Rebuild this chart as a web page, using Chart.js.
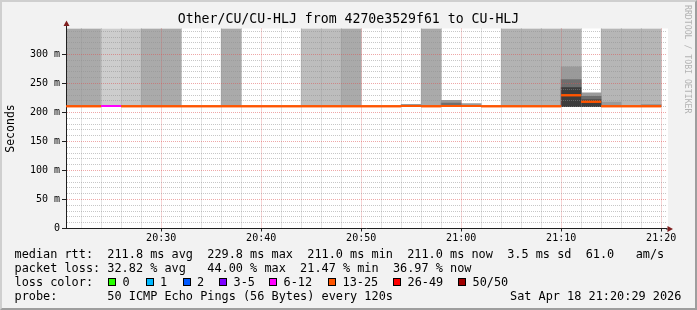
<!DOCTYPE html>
<html>
<head>
<meta charset="utf-8">
<title>Other/CU/CU-HLJ</title>
<script src="https://cdn.jsdelivr.net/npm/chart.js@4.4.1/dist/chart.umd.min.js"></script>
<style>
  body { margin: 0; background: #f2f2f2; }
  #graph { position: relative; width: 697px; height: 310px; background: #f2f2f2;
           font-family: 'DejaVu Sans Mono', monospace; overflow: hidden; }
  #frame { position: absolute; left: 0; top: 0; width: 697px; height: 310px; box-sizing: border-box;
           border: 2px solid; border-color: #cfcfcf #9e9e9e #9e9e9e #cfcfcf; }
  canvas { position: absolute; left: 0; top: 0; }
  .lg { position: absolute; font-size: 11.86px; line-height: 14px; white-space: pre; color: #000; }
  .box { position: absolute; top: 278px; width: 6px; height: 6px; border: 1px solid #000; }
  #mark { position: absolute; left: 683px; top: 5px; font-size: 8.2px; line-height: 10px;
          writing-mode: vertical-rl; color: #b3b3b3; white-space: pre; }
</style>
</head>
<body>
<div id="graph">
  <div id="frame"></div>
  <canvas id="smoke" width="697" height="310"></canvas>

  <div id="mark">RRDTOOL / TOBI OETIKER</div>

  <div class="lg" style="left:14.5px; top:247px">median rtt:  211.8 ms avg  229.8 ms max  211.0 ms min  211.0 ms now  3.5 ms sd  61.0   am/s</div>
  <div class="lg" style="left:14.5px; top:261px">packet loss: 32.82 % avg   44.00 % max  21.47 % min  36.97 % now</div>
  <div class="lg" style="left:14.5px; top:275px">loss color:</div>
  <div class="box" style="left:108px; background:#26ff00"></div><div class="lg" style="left:122.5px; top:275px">0</div>
  <div class="box" style="left:145.5px; background:#00b8ff"></div><div class="lg" style="left:160px; top:275px">1</div>
  <div class="box" style="left:182.5px; background:#0059ff"></div><div class="lg" style="left:197px; top:275px">2</div>
  <div class="box" style="left:219px; background:#7e00ff"></div><div class="lg" style="left:233.5px; top:275px">3-5</div>
  <div class="box" style="left:269px; background:#ff00ff"></div><div class="lg" style="left:283.5px; top:275px">6-12</div>
  <div class="box" style="left:328px; background:#ff5500"></div><div class="lg" style="left:342.5px; top:275px">13-25</div>
  <div class="box" style="left:393px; background:#ff0000"></div><div class="lg" style="left:407.5px; top:275px">26-49</div>
  <div class="box" style="left:458px; background:#a00000"></div><div class="lg" style="left:472.5px; top:275px">50/50</div>
  <div class="lg" style="left:14.5px; top:289px">probe:       50 ICMP Echo Pings (56 Bytes) every 120s</div>
  <div class="lg" style="left:510px; top:289px">Sat Apr 18 21:20:29 2026</div>
</div>

<script>

// one entry per 120 s step
const binStart = ['20:20', '20:22', '20:24', '20:26', '20:28', '20:30', '20:32', '20:34', '20:36', '20:38',
                  '20:40', '20:42', '20:44', '20:46', '20:48', '20:50', '20:52', '20:54', '20:56', '20:58',
                  '21:00', '21:02', '21:04', '21:06', '21:08', '21:10', '21:12', '21:14', '21:16', '21:18'];

const medianMs = [211.0, 211.0, 211.2, 211.0, 211.0, 211.0, 211.0, 211.0, 211.0, 211.0,
                  211.0, 211.0, 211.0, 211.0, 211.0, 211.0, 211.0, 211.2, 211.0, 211.5,
                  211.2, 211.0, 211.0, 211.0, 211.0, 229.8, 218.6, 211.0, 211.0, 211.0];

// lost pings out of 50
const lostPings = [22, 22, 11, 13, 22, 22, 14, 14, 22, 14,
                   14, 14, 16, 16, 22, 14, 14, 15, 22, 15,
                   15, 14, 19, 19, 19, 19, 14, 18, 18, 18];

const minMs = [210, 210, 210, 210, 210, 210, 210, 210, 210, 210,
               210, 210, 210, 210, 210, 210, 210, 210, 210, 210,
               210, 210, 210, 210, 210, 210, 210, 210, 210, 210];

// smoke of lost pings, runs off the top of the graph
const lostTopMs = [345, 345, 345, 345, 345, 345, null, null, 345, null,
                   null, null, 345, 345, 345, null, null, null, 345, null,
                   null, null, 345, 345, 345, 345, null, 345, 345, 345];

// spread of the received pings
const spread95Ms = [null, null, null, null, null, null, null, null, null, null,
                    null, null, null, null, null, null, null, 214, null, 221,
                    215.5, null, null, null, null, 279, 234, 218, null, 214];
const spread85Ms = [null, null, null, null, null, null, null, null, null, null,
                    null, null, null, null, null, null, null, null, null, 216.5,
                    null, null, null, null, null, 257, 228, null, null, null];
const spread70Ms = [null, null, null, null, null, null, null, null, null, null,
                    null, null, null, null, null, null, null, null, null, null,
                    null, null, null, null, null, 243, 222, null, null, null];

const yLabelMs = [0, 50, 100, 150, 200, 250, 300];
const xLabels = ['20:30', '20:40', '20:50', '21:00', '21:10', '21:20'];
const windowStart = '20:20:29';
const windowEnd = '21:20:29';
const Y_MAX = 345;
const STEP = 2;

const lossBuckets = [[0, '#26ff00'], [1, '#00b8ff'], [2, '#0059ff'], [3, '#7e00ff'],
                     [6, '#ff00ff'], [13, '#ff5500'], [26, '#ff0000'], [50, '#a00000']];

function lossColor(n) {
  let c = lossBuckets[0][1];
  for (const [min, col] of lossBuckets) if (n >= min) c = col;
  return c;
}
function lossGray(n) {
  const v = Math.round(240 - 3.2 * n);
  return `rgb(${v},${v},${v})`;
}
function toMin(t) {
  const p = t.split(':').map(Number);
  return (p[0] - 20) * 60 + p[1] + (p[2] || 0) / 60;
}
function fmt(v) {
  const h = 20 + Math.floor(v / 60), m = Math.round(v % 60);
  return `${h}:${String(m).padStart(2, '0')}`;
}

const starts = binStart.map(toMin);
const mids = starts.map(m => m + STEP / 2);

function band(top) {
  return mids.map((x, i) => ({x, y: top[i] == null ? null : [minMs[i], top[i]]}));
}

let medianPts = [];
starts.forEach((m, i) => {
  medianPts.push({x: m, y: medianMs[i]}, {x: m + STEP, y: medianMs[i]}, {x: m + STEP, y: null});
});

const GRID = 'rgba(143,143,143,0.5)';
const MGRID = 'rgba(222,79,79,0.5)';
const AXIS = '#1f1f1f';

Chart.defaults.font.family = "'DejaVu Sans Mono', monospace";
Chart.defaults.color = '#000';

const canvasBack = {
  id: 'canvasBack',
  beforeDraw(chart) {
    const {ctx, chartArea: a} = chart;
    ctx.save();
    ctx.fillStyle = '#ffffff';
    ctx.fillRect(a.left, a.top, a.width + 2, a.height);
    ctx.restore();
  },
  afterDraw(chart) {
    const {ctx, chartArea: a} = chart;
    // median on top of the grid
    ctx.save();
    ctx.beginPath();
    ctx.rect(a.left, a.top - 2, a.width, a.height + 4);
    ctx.clip();
    chart.getDatasetMeta(0).controller.draw();
    ctx.restore();

    // axis arrows
    ctx.save();
    ctx.strokeStyle = AXIS;
    ctx.lineWidth = 1;
    ctx.beginPath();
    ctx.moveTo(a.left + 0.5, a.top);
    ctx.lineTo(a.left + 0.5, a.top - 4);
    ctx.moveTo(a.right, a.bottom + 0.5);
    ctx.lineTo(a.right + 3, a.bottom + 0.5);
    ctx.stroke();
    ctx.fillStyle = '#801f1f';
    ctx.beginPath();
    ctx.moveTo(a.left + 0.5, a.top - 8);
    ctx.lineTo(a.left - 2.5, a.top - 2.5);
    ctx.lineTo(a.left + 3.5, a.top - 2.5);
    ctx.closePath();
    ctx.fill();
    ctx.beginPath();
    ctx.moveTo(a.right + 7, a.bottom + 0.5);
    ctx.lineTo(a.right + 1.5, a.bottom - 2.5);
    ctx.lineTo(a.right + 1.5, a.bottom + 3.5);
    ctx.closePath();
    ctx.fill();
    ctx.restore();
  }
};

const barCommon = {type: 'bar', grouped: false, barPercentage: 1, categoryPercentage: 1, borderWidth: 0};

new Chart(document.getElementById('smoke'), {
  type: 'bar',
  data: {
    datasets: [
      {
        type: 'line',
        label: 'median rtt',
        data: medianPts,
        order: 0,
        borderWidth: 2,
        borderColor: '#ff5500',
        borderCapStyle: 'butt',
        pointRadius: 0,
        spanGaps: false,
        tension: 0,
        segment: {borderColor: ctx => lossColor(lostPings[Math.floor(ctx.p0DataIndex / 3)])}
      },
      Object.assign({label: 'spread 70', data: band(spread70Ms), order: 1, backgroundColor: '#3c3c3c'}, barCommon),
      Object.assign({label: 'spread 85', data: band(spread85Ms), order: 2, backgroundColor: '#6e6e6e'}, barCommon),
      Object.assign({label: 'spread 95', data: band(spread95Ms), order: 3, backgroundColor: '#9a9a9a'}, barCommon),
      Object.assign({label: 'lost', data: band(lostTopMs), order: 4,
                     backgroundColor: mids.map((x, i) => lossGray(lostPings[i]))}, barCommon)
    ]
  },
  options: {
    responsive: false,
    animation: false,
    devicePixelRatio: 1,
    layout: {padding: {left: 0, right: 0, top: 0, bottom: 60}},
    plugins: {
      legend: {display: false},
      tooltip: {enabled: false},
      title: {
        display: true,
        text: 'Other/CU/CU-HLJ from 4270e3529f61 to CU-HLJ',
        font: {size: 13.2, weight: 'normal'},
        color: '#000',
        padding: {top: 11.4, bottom: 1.26}
      }
    },
    scales: {
      x: {
        type: 'linear',
        offset: false,
        min: toMin(windowStart),
        max: toMin(windowEnd),
        afterBuildTicks: s => { s.ticks = starts.map(m => ({value: m + STEP})); },
        afterFit: s => { s.height = 21.5; },
        ticks: {
          autoSkip: false, maxRotation: 0, padding: 1,
          font: {size: 10},
          callback: v => xLabels.includes(fmt(v)) && v % 10 === 0 ? fmt(v) : ''
        },
        grid: {
          offset: false, z: 1, tickLength: 3, lineWidth: 1,
          color: c => c.tick && c.tick.value % 10 === 0 ? MGRID : GRID,
          tickColor: c => c.tick && c.tick.value % 10 === 0 ? AXIS : 'rgba(0,0,0,0)'
        },
        border: {display: true, color: AXIS, width: 1, dash: [1, 1], z: 2}
      },
      y: {
        position: 'left',
        min: 0,
        max: Y_MAX,
        afterBuildTicks: s => {
          const t = [];
          for (let v = 0; v < Y_MAX; v += 10) t.push({value: v});
          s.ticks = t;
        },
        afterFit: s => { s.width = 66; },
        title: {display: true, text: 'Seconds', font: {size: 11.5}, color: '#000', padding: {top: 4, bottom: 0}},
        ticks: {
          autoSkip: false, padding: 2,
          font: {size: 10},
          callback: v => yLabelMs.includes(v) ? (v === 0 ? '0' : v + ' m') : ''
        },
        grid: {
          z: 1, tickLength: 4, lineWidth: 1,
          color: c => c.tick && yLabelMs.includes(c.tick.value) && c.tick.value !== 0 ? MGRID : GRID,
          tickColor: c => c.tick && yLabelMs.includes(c.tick.value) ? AXIS : 'rgba(0,0,0,0)'
        },
        border: {display: true, color: AXIS, width: 1, dash: [1, 1], z: 2}
      },
      pad: {
        position: 'right',
        display: true,
        afterFit: s => { s.width = 31; },
        ticks: {display: false},
        grid: {display: false},
        border: {display: false}
      }
    }
  },
  plugins: [canvasBack]
});

</script>
</body>
</html>
